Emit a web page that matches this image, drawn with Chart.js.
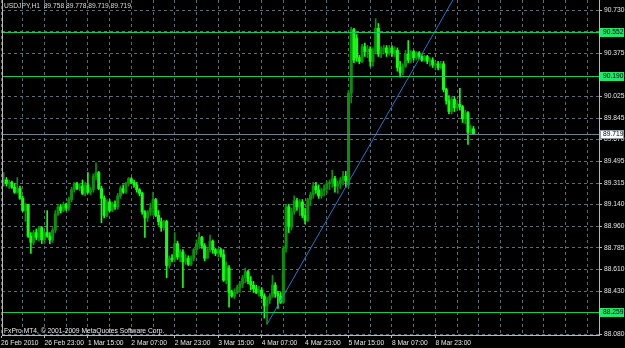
<!DOCTYPE html>
<html>
<head>
<meta charset="utf-8">
<script src="https://cdn.jsdelivr.net/npm/chart.js@4.4.1/dist/chart.umd.min.js"></script>
<style>
  html, body { margin: 0; padding: 0; background: #000; }
  canvas { display: block; }
</style>
</head>
<body>
<canvas id="chart" width="625" height="348"></canvas>
<script>
// USDJPY H1 candles, bar 0 = 26 Feb 07:00
const opens = [
  89.26, 89.31, 89.34, 89.31, 89.32, 89.28, 89.24, 89.27, 89.19, 89.09,
  89.14, 88.88, 88.83, 88.91, 88.87, 88.95, 88.85, 88.91, 88.88, 88.85,
  88.93, 89.06, 89.12, 89.09, 89.14, 89.11, 89.18, 89.26, 89.31, 89.27,
  89.29, 89.23, 89.30, 89.24, 89.26, 89.37, 89.40, 89.27, 89.19, 89.05,
  89.16, 89.09, 89.14, 89.12, 89.21, 89.27, 89.24, 89.31, 89.35, 89.32,
  89.30, 89.26, 89.23, 89.08, 89.03, 89.08, 89.11, 89.18, 89.05, 89.00,
  88.95, 89.00, 88.64, 88.70, 88.69, 88.82, 88.71, 88.75, 88.67, 88.70,
  88.65, 88.70, 88.77, 88.82, 88.87, 88.80, 88.70, 88.77, 88.84, 88.77,
  88.74, 88.77, 88.73, 88.52, 88.62, 88.42, 88.39, 88.42, 88.46, 88.49,
  88.54, 88.59, 88.51, 88.48, 88.45, 88.42, 88.44, 88.39, 88.31, 88.36,
  88.39, 88.48, 88.41, 88.39, 88.34, 88.78, 89.12, 88.96, 89.08, 89.17,
  89.12, 89.16, 89.05, 89.01, 89.18, 89.22, 89.29, 89.26, 89.21, 89.25,
  89.27, 89.31, 89.32, 89.35, 89.29, 89.31, 89.34, 89.37, 89.30, 90.05,
  90.57, 90.50, 90.34, 90.31, 90.43, 90.39, 90.41, 90.31, 90.39, 90.58,
  90.37, 90.40, 90.42, 90.38, 90.42, 90.38, 90.40, 90.26, 90.22, 90.27,
  90.37, 90.32, 90.39, 90.34, 90.38, 90.35, 90.32, 90.35, 90.31, 90.32,
  90.28, 90.29, 90.26, 90.29, 90.08, 89.99, 89.90, 90.00, 89.93, 89.96,
  89.94, 89.84, 89.89, 89.73, 89.758
];
const highs = [
  89.34, 89.40, 89.36, 89.34, 89.33, 89.31, 89.36, 89.29, 89.21, 89.15,
  89.14, 88.91, 88.93, 88.94, 88.96, 88.96, 88.92, 89.09, 88.91, 88.95,
  89.09, 89.14, 89.14, 89.16, 89.15, 89.20, 89.28, 89.32, 89.32, 89.31,
  89.34, 89.32, 89.40, 89.28, 89.39, 89.48, 89.41, 89.29, 89.21, 89.18,
  89.18, 89.16, 89.17, 89.23, 89.29, 89.30, 89.32, 89.36, 89.36, 89.34,
  89.32, 89.27, 89.24, 89.09, 89.09, 89.15, 89.24, 89.19, 89.09, 89.03,
  89.01, 89.01, 88.72, 88.73, 88.91, 88.84, 88.77, 88.77, 88.73, 88.72,
  88.72, 88.78, 88.85, 88.91, 88.88, 88.82, 88.78, 88.89, 88.85, 88.78,
  88.78, 88.78, 88.77, 88.67, 88.64, 88.44, 88.45, 88.48, 88.51, 88.56,
  88.62, 88.60, 88.55, 88.51, 88.48, 88.47, 88.46, 88.41, 88.38, 88.41,
  88.56, 88.50, 88.43, 88.42, 88.80, 89.14, 89.14, 89.11, 89.21, 89.19,
  89.18, 89.18, 89.11, 89.19, 89.24, 89.32, 89.32, 89.30, 89.27, 89.30,
  89.33, 89.34, 89.42, 89.37, 89.33, 89.36, 89.41, 89.41, 90.07, 90.59,
  90.58, 90.53, 90.36, 90.45, 90.46, 90.44, 90.43, 90.42, 90.66, 90.62,
  90.43, 90.44, 90.44, 90.44, 90.44, 90.43, 90.42, 90.31, 90.29, 90.40,
  90.48, 90.40, 90.40, 90.39, 90.39, 90.37, 90.36, 90.36, 90.34, 90.34,
  90.31, 90.31, 90.31, 90.31, 90.09, 90.03, 90.02, 90.02, 89.99, 90.09,
  89.95, 89.91, 89.90, 89.79, 89.778
];
const lows = [
  89.23, 89.29, 89.29, 89.27, 89.27, 89.23, 89.23, 89.18, 89.08, 89.00,
  88.87, 88.74, 88.81, 88.85, 88.84, 88.82, 88.82, 88.87, 88.82, 88.83,
  88.91, 89.05, 89.07, 89.08, 89.09, 89.09, 89.16, 89.24, 89.26, 89.25,
  89.22, 89.21, 89.23, 89.22, 89.24, 89.34, 89.26, 88.99, 89.03, 89.04,
  89.08, 89.08, 89.10, 89.10, 89.19, 89.23, 89.23, 89.29, 89.31, 89.28,
  89.24, 89.21, 89.06, 88.87, 89.00, 89.05, 89.05, 89.04, 88.97, 88.92,
  88.93, 88.54, 88.62, 88.67, 88.67, 88.69, 88.67, 88.46, 88.65, 88.64,
  88.64, 88.68, 88.74, 88.78, 88.78, 88.68, 88.70, 88.75, 88.74, 88.72,
  88.71, 88.71, 88.51, 88.49, 88.30, 88.38, 88.37, 88.41, 88.42, 88.46,
  88.50, 88.49, 88.44, 88.42, 88.41, 88.39, 88.37, 88.21, 88.16, 88.33,
  88.38, 88.38, 88.29, 88.33, 88.33, 88.75, 88.91, 88.93, 89.06, 89.09,
  89.05, 89.03, 88.98, 89.00, 89.13, 89.19, 89.23, 89.19, 89.19, 89.21,
  89.23, 89.26, 89.28, 89.24, 89.23, 89.27, 89.30, 89.28, 89.28, 89.97,
  90.30, 90.31, 90.29, 90.30, 90.35, 90.34, 90.27, 90.27, 90.38, 90.35,
  90.34, 90.37, 90.35, 90.36, 90.35, 90.35, 90.23, 90.18, 90.20, 90.26,
  90.30, 90.30, 90.32, 90.32, 90.33, 90.31, 90.31, 90.29, 90.27, 90.26,
  90.24, 90.24, 90.25, 90.06, 89.96, 89.88, 89.88, 89.90, 89.91, 89.91,
  89.81, 89.80, 89.63, 89.71, 89.719
];
const closes = [
  89.31, 89.34, 89.31, 89.32, 89.28, 89.24, 89.27, 89.19, 89.09, 89.14,
  88.88, 88.83, 88.91, 88.87, 88.95, 88.85, 88.91, 88.88, 88.85, 88.93,
  89.06, 89.12, 89.09, 89.14, 89.11, 89.18, 89.26, 89.31, 89.27, 89.29,
  89.23, 89.30, 89.24, 89.26, 89.37, 89.40, 89.27, 89.19, 89.05, 89.16,
  89.09, 89.14, 89.12, 89.21, 89.27, 89.24, 89.31, 89.35, 89.32, 89.30,
  89.26, 89.23, 89.08, 89.03, 89.08, 89.11, 89.18, 89.05, 89.00, 88.95,
  89.00, 88.64, 88.70, 88.69, 88.82, 88.71, 88.75, 88.67, 88.70, 88.65,
  88.70, 88.77, 88.82, 88.87, 88.80, 88.70, 88.77, 88.84, 88.77, 88.74,
  88.77, 88.73, 88.52, 88.64, 88.42, 88.39, 88.42, 88.46, 88.49, 88.54,
  88.59, 88.51, 88.48, 88.45, 88.42, 88.44, 88.39, 88.31, 88.36, 88.39,
  88.48, 88.41, 88.39, 88.34, 88.78, 89.12, 88.96, 89.08, 89.17, 89.12,
  89.16, 89.05, 89.01, 89.18, 89.22, 89.29, 89.26, 89.21, 89.25, 89.27,
  89.31, 89.32, 89.35, 89.29, 89.31, 89.34, 89.37, 89.33, 90.05, 90.57,
  90.32, 90.34, 90.31, 90.43, 90.39, 90.41, 90.31, 90.39, 90.58, 90.37,
  90.40, 90.42, 90.38, 90.42, 90.38, 90.40, 90.26, 90.22, 90.27, 90.37,
  90.32, 90.39, 90.34, 90.38, 90.35, 90.32, 90.35, 90.31, 90.32, 90.28,
  90.29, 90.26, 90.29, 90.08, 89.99, 89.90, 90.00, 89.93, 89.96, 89.94,
  89.84, 89.89, 89.73, 89.76, 89.719
];

// one label every 16 bars, grid every 8 bars
const timeLabels = ['26 Feb 2010', '26 Feb 23:00', '1 Mar 15:00', '2 Mar 07:00', '2 Mar 23:00',
  '3 Mar 15:00', '4 Mar 07:00', '4 Mar 23:00', '5 Mar 15:00', '8 Mar 07:00', '8 Mar 23:00'];
const gridBars = [0, 8, 16, 24, 32, 40, 48, 56, 64, 72, 80, 88, 96, 104, 112, 120, 128, 136,
  144, 152, 160, 168, 176, 184, 192, 200, 208, 216];
const priceTicks = [90.730, 90.552, 90.375, 90.190, 90.025, 89.845, 89.670, 89.495, 89.315,
  89.140, 88.960, 88.785, 88.610, 88.430, 88.259, 88.080];

const levelLines = [90.552, 90.190, 88.259];
const bidPrice = 89.719;
const trendX = [98, 170];
const trendY = [88.16, 90.95];
const headerText = 'USDJPY,H1  89.758 89.778 89.719 89.719';
const footerText = 'FxPro MT4, \u00a9 2001-2009 MetaQuotes Software Corp.';

const BULL = '#0c900c';
const BEAR = '#12ff12';
const GRID = '#5e6d74';
const FRAME = '#b8b8b8';
const FONT = "'Liberation Sans', Arial, sans-serif";

Chart.defaults.font.family = FONT;
Chart.defaults.font.size = 6.7;

const colors = closes.map((c, i) => c > opens[i] ? BULL : BEAR);

const overlay = {
  id: 'overlay',
  afterDatasetsDraw(chart) {
    const { ctx, chartArea: a, scales: { y } } = chart;
    ctx.save();
    ctx.lineWidth = 1;
    levelLines.forEach(v => {
      const py = Math.round(y.getPixelForValue(v)) + 0.5;
      ctx.strokeStyle = '#14cc5a';
      ctx.beginPath(); ctx.moveTo(a.left, py); ctx.lineTo(a.right, py); ctx.stroke();
    });
    const by = Math.round(y.getPixelForValue(bidPrice)) + 0.5;
    ctx.strokeStyle = '#6f8492';
    ctx.beginPath(); ctx.moveTo(a.left, by); ctx.lineTo(a.right, by); ctx.stroke();
    ctx.restore();
  },
  afterDraw(chart) {
    const { ctx, chartArea: a, scales: { y } } = chart;
    ctx.save();
    // left frame line
    ctx.strokeStyle = FRAME;
    ctx.lineWidth = 1;
    ctx.beginPath(); ctx.moveTo(a.left + 0.5, a.top); ctx.lineTo(a.left + 0.5, a.bottom); ctx.stroke();

    ctx.font = '6.7px ' + FONT;
    ctx.textBaseline = 'middle';
    ctx.textAlign = 'left';
    const box = (v, fill, stroke) => {
      const py = Math.round(y.getPixelForValue(v));
      ctx.fillStyle = fill;
      ctx.fillRect(a.right + 1, py - 4, 24, 9);
      if (stroke) {
        ctx.strokeStyle = stroke;
        ctx.strokeRect(a.right + 1.5, py - 3.5, 23, 8);
      }
      ctx.fillStyle = '#000';
      ctx.fillText(v.toFixed(3), a.right + 4, py + 0.5);
    };
    levelLines.forEach(v => box(v, '#22e56c'));
    box(bidPrice, '#ffffff', '#8c9aa5');

    ctx.fillStyle = '#dcdcdc';
    ctx.fillText(headerText, a.left + 2, 6);
    ctx.fillStyle = '#ececec';
    ctx.fillText(footerText, a.left + 2, 331);
    ctx.restore();
  }
};

new Chart(document.getElementById('chart'), {
  type: 'bar',
  data: {
    datasets: [
      {
        data: closes.map((c, i) => ({ x: i, y: [lows[i], highs[i]] })),
        backgroundColor: colors,
        barThickness: 1,
        grouped: false,
        order: 3
      },
      {
        data: closes.map((c, i) => ({ x: i, y: [opens[i], c] })),
        backgroundColor: colors,
        barThickness: 2.4,
        minBarLength: 1,
        grouped: false,
        order: 2
      },
      {
        type: 'line',
        data: trendX.map((x, k) => ({ x: x, y: trendY[k] })),
        borderColor: '#1f78cc',
        borderWidth: 1,
        pointRadius: 0,
        order: 1
      }
    ]
  },
  options: {
    responsive: false,
    animation: false,
    layout: { padding: { left: 2, top: 0, right: 0, bottom: 0 } },
    plugins: { legend: { display: false }, tooltip: { enabled: false } },
    scales: {
      x: {
        type: 'linear',
        min: 0.368,
        max: 220.26,
        offset: false,
        afterBuildTicks: s => { s.ticks = gridBars.map(v => ({ value: v })); },
        afterFit: s => { s.height = 13; s.paddingLeft = 0; s.paddingRight = 0; },
        ticks: {
          autoSkip: false,
          maxRotation: 0,
          align: 'start',
          padding: 1,
          color: '#e6e6e6',
          callback: v => (v % 16 === 0 && timeLabels[v / 16]) ? timeLabels[v / 16] : ''
        },
        grid: {
          offset: false,
          color: GRID,
          tickLength: 3,
          tickColor: c => (c.tick && c.tick.label) ? FRAME : 'rgba(0,0,0,0)'
        },
        border: { color: FRAME, dash: [3, 3] }
      },
      y: {
        position: 'right',
        min: 88.072,
        max: 90.812,
        beginAtZero: false,
        afterBuildTicks: s => { s.ticks = priceTicks.map(v => ({ value: v })); },
        afterFit: s => { s.width = 26; s.paddingTop = 0; s.paddingBottom = 0; },
        ticks: {
          autoSkip: false,
          padding: 2,
          color: '#e6e6e6',
          callback: v => v.toFixed(3)
        },
        grid: { color: GRID, tickLength: 3, tickColor: FRAME },
        border: { color: FRAME, dash: [3, 3] }
      }
    }
  },
  plugins: [overlay]
});
</script>
</body>
</html>
